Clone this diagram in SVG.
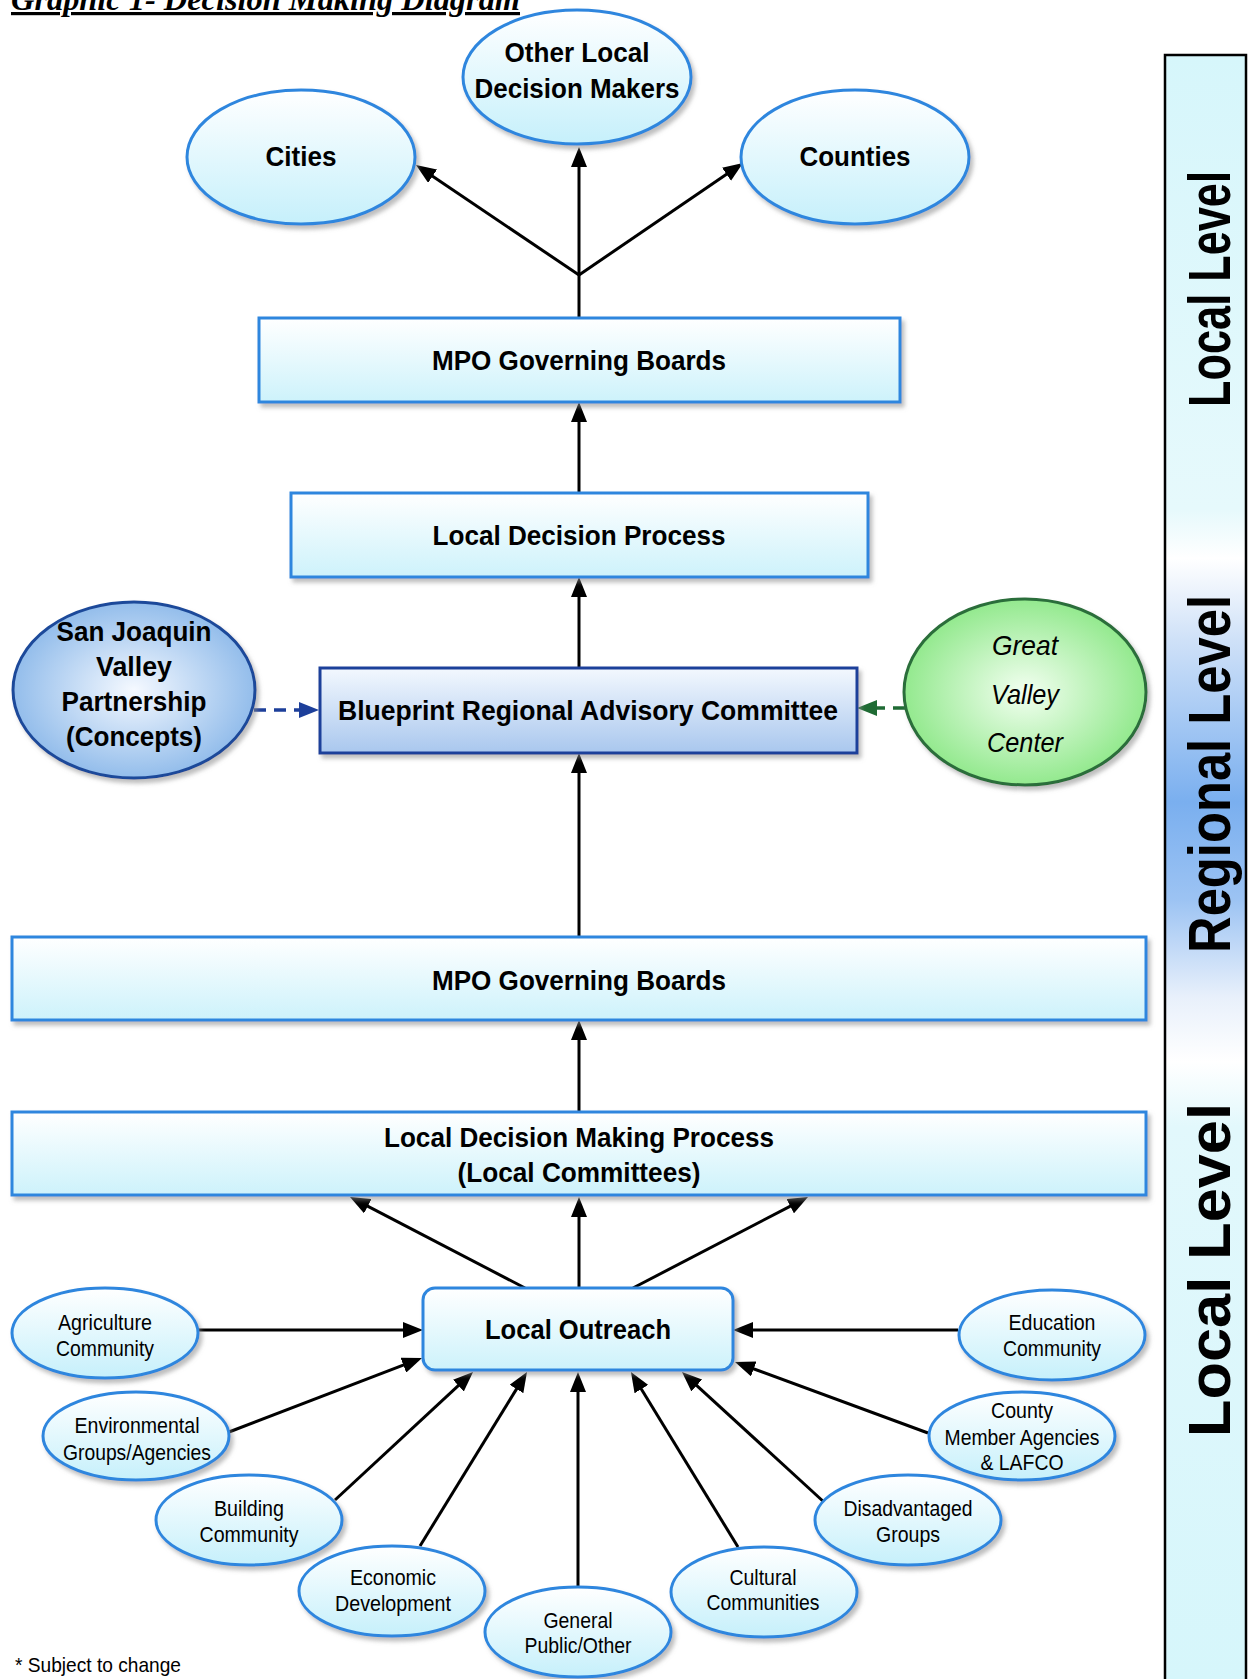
<svg xmlns="http://www.w3.org/2000/svg" width="1248" height="1679" viewBox="0 0 1248 1679">
<style>
.t{font-family:"Liberation Sans",Arial,sans-serif;fill:#000;text-anchor:middle}
.b{font-weight:bold;font-size:27px}
.s{font-size:22px}
.i{font-style:italic;font-size:28px}
.box{fill:url(#gBox);stroke:#2e86de;stroke-width:3;filter:url(#sh)}
.ell{fill:url(#gEll);stroke:#2e86de;stroke-width:3;filter:url(#sh)}
.c{stroke:#000;stroke-width:3;fill:none}
.lvl{font-family:"Liberation Sans",Arial,sans-serif;font-weight:bold;font-size:60px;text-anchor:middle;fill:#000}
</style>
<defs>
<linearGradient id="gBox" x1="0" y1="0" x2="0" y2="1"><stop offset="0" stop-color="#ffffff"/><stop offset="1" stop-color="#cdf2fb"/></linearGradient>
<linearGradient id="gEll" x1="0" y1="0" x2="0" y2="1"><stop offset="0" stop-color="#ffffff"/><stop offset="1" stop-color="#c6f0fb"/></linearGradient>
<linearGradient id="gBlue" x1="0" y1="0" x2="0" y2="1"><stop offset="0" stop-color="#f3f8fe"/><stop offset="1" stop-color="#a9c7ee"/></linearGradient>
<radialGradient id="gSJ" cx="0.5" cy="0.5" r="0.5"><stop offset="0" stop-color="#f5f9ff"/><stop offset="1" stop-color="#93bdeb"/></radialGradient>
<radialGradient id="gGV" cx="0.5" cy="0.5" r="0.5"><stop offset="0" stop-color="#f3fff1"/><stop offset="1" stop-color="#93e98e"/></radialGradient>
<linearGradient id="gBar" gradientUnits="userSpaceOnUse" x1="0" y1="55" x2="0" y2="1679">
<stop offset="0" stop-color="#d6f6fb"/>
<stop offset="0.28" stop-color="#e6f9fc"/>
<stop offset="0.31" stop-color="#ffffff"/>
<stop offset="0.36" stop-color="#cfe1f8"/>
<stop offset="0.46" stop-color="#7aafef"/>
<stop offset="0.52" stop-color="#9cc3f3"/>
<stop offset="0.58" stop-color="#e8f0fb"/>
<stop offset="0.62" stop-color="#ffffff"/>
<stop offset="0.66" stop-color="#e2f8fc"/>
<stop offset="1" stop-color="#d6f6fb"/>
</linearGradient>
<filter id="sh" x="-10%" y="-10%" width="125%" height="130%"><feDropShadow dx="3" dy="4" stdDeviation="2" flood-color="#888" flood-opacity="0.55"/></filter>
<marker id="ah" viewBox="0 0 20 16" refX="4" refY="8" markerWidth="20" markerHeight="16" markerUnits="userSpaceOnUse" orient="auto"><path d="M0,0 L20,8 L0,16 z" fill="#000"/></marker>
<marker id="ahB" viewBox="0 0 20 16" refX="4" refY="8" markerWidth="20" markerHeight="16" markerUnits="userSpaceOnUse" orient="auto"><path d="M0,0 L20,8 L0,16 z" fill="#1d3f9a"/></marker>
<marker id="ahG" viewBox="0 0 20 16" refX="4" refY="8" markerWidth="20" markerHeight="16" markerUnits="userSpaceOnUse" orient="auto"><path d="M0,0 L20,8 L0,16 z" fill="#1f6b34"/></marker>
</defs>
<rect width="1248" height="1679" fill="#fff"/>

<text x="11" y="10" font-family="'Liberation Serif','Times New Roman',serif" font-weight="bold" font-style="italic" font-size="32" text-decoration="underline" textLength="509" lengthAdjust="spacingAndGlyphs">Graphic 1- Decision Making Diagram</text>

<g id="level-bar">
<rect x="1165" y="55" width="81" height="1630" fill="url(#gBar)" stroke="#000" stroke-width="2.5"/>
<text class="lvl" transform="translate(1230,289) rotate(-90)" textLength="236" lengthAdjust="spacingAndGlyphs">Local Level</text>
<text class="lvl" transform="translate(1230,774) rotate(-90)" textLength="358" lengthAdjust="spacingAndGlyphs">Regional Level</text>
<text class="lvl" transform="translate(1230,1270) rotate(-90)" textLength="334" lengthAdjust="spacingAndGlyphs">Local Level</text>
</g>

<g id="connectors">
<line class="c" x1="579" y1="318" x2="579" y2="275"/>
<line class="c" x1="579" y1="275" x2="429.3" y2="174" marker-end="url(#ah)"/>
<line class="c" x1="579" y1="275" x2="579" y2="163" marker-end="url(#ah)"/>
<line class="c" x1="579" y1="275" x2="729.8" y2="172" marker-end="url(#ah)"/>
<line class="c" x1="579" y1="493" x2="579" y2="418" marker-end="url(#ah)"/>
<line class="c" x1="579" y1="668" x2="579" y2="593" marker-end="url(#ah)"/>
<line class="c" x1="579" y1="937" x2="579" y2="769" marker-end="url(#ah)"/>
<line class="c" x1="579" y1="1112" x2="579" y2="1036" marker-end="url(#ah)"/>
<line class="c" x1="525" y1="1288" x2="364.2" y2="1204.4" marker-end="url(#ah)"/>
<line class="c" x1="579" y1="1288" x2="579" y2="1213" marker-end="url(#ah)"/>
<line class="c" x1="633" y1="1288" x2="793.8" y2="1204.4" marker-end="url(#ah)"/>
<line class="c" x1="198" y1="1330" x2="407" y2="1330" marker-end="url(#ah)"/>
<line class="c" x1="229" y1="1432" x2="407.1" y2="1363.7" marker-end="url(#ah)"/>
<line class="c" x1="335" y1="1500" x2="461.3" y2="1382.9" marker-end="url(#ah)"/>
<line class="c" x1="420" y1="1546" x2="518.6" y2="1385.6" marker-end="url(#ah)"/>
<line class="c" x1="578" y1="1587" x2="578" y2="1388" marker-end="url(#ah)"/>
<line class="c" x1="738" y1="1547" x2="639.3" y2="1385.7" marker-end="url(#ah)"/>
<line class="c" x1="825" y1="1503" x2="693.8" y2="1382.8" marker-end="url(#ah)"/>
<line class="c" x1="928" y1="1433" x2="750" y2="1367.5" marker-end="url(#ah)"/>
<line class="c" x1="958" y1="1330" x2="749" y2="1330" marker-end="url(#ah)"/>
<line x1="254" y1="710" x2="303" y2="710" stroke="#1d3f9a" stroke-width="3.5" stroke-dasharray="12,8" marker-end="url(#ahB)"/>
<line x1="905" y1="708" x2="873" y2="708" stroke="#1f6b34" stroke-width="3.5" stroke-dasharray="12,8" marker-end="url(#ahG)"/>
</g>

<g id="cities"><ellipse class="ell" cx="301" cy="157" rx="114" ry="67"/><text class="t b" x="301" y="166" textLength="71" lengthAdjust="spacingAndGlyphs">Cities</text></g>
<g id="other-local"><ellipse class="ell" cx="577" cy="77" rx="114" ry="67"/><text class="t b" x="577" y="62" textLength="145" lengthAdjust="spacingAndGlyphs">Other Local</text><text class="t b" x="577" y="98" textLength="205" lengthAdjust="spacingAndGlyphs">Decision Makers</text></g>
<g id="counties"><ellipse class="ell" cx="855" cy="157" rx="114" ry="67"/><text class="t b" x="855" y="166" textLength="111" lengthAdjust="spacingAndGlyphs">Counties</text></g>

<g id="mpo-top"><rect class="box" x="259" y="318" width="641" height="84"/><text class="t b" x="579" y="370" textLength="294" lengthAdjust="spacingAndGlyphs">MPO Governing Boards</text></g>
<g id="local-decision"><rect class="box" x="291" y="493" width="577" height="84"/><text class="t b" x="579" y="545" textLength="293" lengthAdjust="spacingAndGlyphs">Local Decision Process</text></g>

<g id="blueprint"><rect x="320" y="668" width="537" height="85" fill="url(#gBlue)" stroke="#1d3f9a" stroke-width="3" filter="url(#sh)"/><text class="t b" x="588" y="720" textLength="500" lengthAdjust="spacingAndGlyphs">Blueprint Regional Advisory Committee</text></g>
<g id="sjv"><ellipse cx="134" cy="690" rx="121" ry="88" fill="url(#gSJ)" stroke="#1d4a9a" stroke-width="3" filter="url(#sh)"/>
<text class="t b" x="134" y="641" textLength="155" lengthAdjust="spacingAndGlyphs">San Joaquin</text><text class="t b" x="134" y="676" textLength="76" lengthAdjust="spacingAndGlyphs">Valley</text><text class="t b" x="134" y="711" textLength="145" lengthAdjust="spacingAndGlyphs">Partnership</text><text class="t b" x="134" y="746" textLength="136" lengthAdjust="spacingAndGlyphs">(Concepts)</text></g>
<g id="gvc"><ellipse cx="1025" cy="692" rx="121" ry="93" fill="url(#gGV)" stroke="#2c6e3a" stroke-width="3" filter="url(#sh)"/>
<text class="t i" x="1025" y="655" textLength="66" lengthAdjust="spacingAndGlyphs">Great</text><text class="t i" x="1025" y="704" textLength="68" lengthAdjust="spacingAndGlyphs">Valley</text><text class="t i" x="1025" y="752" textLength="76" lengthAdjust="spacingAndGlyphs">Center</text></g>

<g id="mpo-big"><rect class="box" x="12" y="937" width="1134" height="83"/><text class="t b" x="579" y="990" textLength="294" lengthAdjust="spacingAndGlyphs">MPO Governing Boards</text></g>
<g id="ldmp"><rect class="box" x="12" y="1112" width="1134" height="83"/><text class="t b" x="579" y="1147" textLength="390" lengthAdjust="spacingAndGlyphs">Local Decision Making Process</text><text class="t b" x="579" y="1182" textLength="243" lengthAdjust="spacingAndGlyphs">(Local Committees)</text></g>

<g id="outreach"><rect class="box" x="423" y="1288" width="310" height="82" rx="12"/><text class="t b" x="578" y="1339" textLength="186" lengthAdjust="spacingAndGlyphs">Local Outreach</text></g>

<g id="agriculture"><ellipse class="ell" cx="105" cy="1333" rx="93" ry="45"/><text class="t s" x="105" y="1330" textLength="94" lengthAdjust="spacingAndGlyphs">Agriculture</text><text class="t s" x="105" y="1356" textLength="98" lengthAdjust="spacingAndGlyphs">Community</text></g>
<g id="environmental"><ellipse class="ell" cx="136" cy="1436" rx="93" ry="44"/><text class="t s" x="137" y="1433" textLength="125" lengthAdjust="spacingAndGlyphs">Environmental</text><text class="t s" x="137" y="1460" textLength="148" lengthAdjust="spacingAndGlyphs">Groups/Agencies</text></g>
<g id="building"><ellipse class="ell" cx="249" cy="1520" rx="93" ry="45"/><text class="t s" x="249" y="1516" textLength="70" lengthAdjust="spacingAndGlyphs">Building</text><text class="t s" x="249" y="1542" textLength="99" lengthAdjust="spacingAndGlyphs">Community</text></g>
<g id="economic"><ellipse class="ell" cx="392" cy="1591" rx="93" ry="45"/><text class="t s" x="393" y="1585" textLength="86" lengthAdjust="spacingAndGlyphs">Economic</text><text class="t s" x="393" y="1611" textLength="116" lengthAdjust="spacingAndGlyphs">Development</text></g>
<g id="general"><ellipse class="ell" cx="578" cy="1632" rx="93" ry="45"/><text class="t s" x="578" y="1628" textLength="69" lengthAdjust="spacingAndGlyphs">General</text><text class="t s" x="578" y="1653" textLength="107" lengthAdjust="spacingAndGlyphs">Public/Other</text></g>
<g id="cultural"><ellipse class="ell" cx="764" cy="1592" rx="93" ry="45"/><text class="t s" x="763" y="1585" textLength="67" lengthAdjust="spacingAndGlyphs">Cultural</text><text class="t s" x="763" y="1610" textLength="113" lengthAdjust="spacingAndGlyphs">Communities</text></g>
<g id="disadvantaged"><ellipse class="ell" cx="908" cy="1520" rx="93" ry="45"/><text class="t s" x="908" y="1516" textLength="129" lengthAdjust="spacingAndGlyphs">Disadvantaged</text><text class="t s" x="908" y="1542" textLength="64" lengthAdjust="spacingAndGlyphs">Groups</text></g>
<g id="county"><ellipse class="ell" cx="1022" cy="1436" rx="93" ry="44"/><text class="t s" x="1022" y="1418" textLength="62" lengthAdjust="spacingAndGlyphs">County</text><text class="t s" x="1022" y="1445" textLength="155" lengthAdjust="spacingAndGlyphs">Member Agencies</text><text class="t s" x="1022" y="1470" textLength="83" lengthAdjust="spacingAndGlyphs">&amp; LAFCO</text></g>
<g id="education"><ellipse class="ell" cx="1052" cy="1335" rx="93" ry="45"/><text class="t s" x="1052" y="1330" textLength="87" lengthAdjust="spacingAndGlyphs">Education</text><text class="t s" x="1052" y="1356" textLength="98" lengthAdjust="spacingAndGlyphs">Community</text></g>

<text x="15" y="1672" font-family="'Liberation Sans',Arial,sans-serif" font-size="21" textLength="166" lengthAdjust="spacingAndGlyphs">* Subject to change</text>
</svg>
